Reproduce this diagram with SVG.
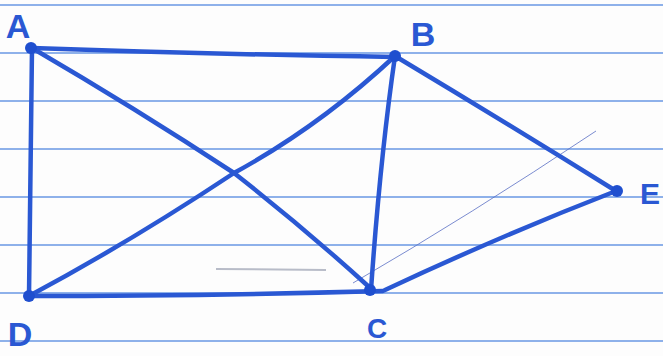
<svg xmlns="http://www.w3.org/2000/svg" width="663" height="356" viewBox="0 0 663 356">
<style>
.rule{stroke:#8eb1ea;stroke-width:2;fill:none}
.edge{stroke:#2a58d3;stroke-width:4.5;fill:none;stroke-linecap:round;stroke-linejoin:round}
.dot{fill:#1f4fcf}
.lbl{font-family:"Liberation Sans",Arial,sans-serif;font-weight:bold;fill:#2a58d3}
.faint{stroke:#5a6fc4;stroke-width:1;fill:none;opacity:0.8}
</style>
<rect width="663" height="356" fill="#fdfdfd"/>
<g id="paper">
<line class="rule" x1="0" y1="5" x2="663" y2="5"/>
<line class="rule" x1="0" y1="53" x2="663" y2="53"/>
<line class="rule" x1="0" y1="101" x2="663" y2="101"/>
<line class="rule" x1="0" y1="149" x2="663" y2="149"/>
<line class="rule" x1="0" y1="197" x2="663" y2="197"/>
<line class="rule" x1="0" y1="245" x2="663" y2="245"/>
<line class="rule" x1="0" y1="293" x2="663" y2="293"/>
<line class="rule" x1="0" y1="341" x2="663" y2="341"/>
<path class="faint" d="M353,283 Q470,215 596,131"/>
<path d="M216,269 L326,270" stroke="#b8bcc8" stroke-width="2" fill="none"/>
</g>
<g id="connectors">
<path class="edge" d="M32,48 Q200,54 395,57"/>
<path class="edge" d="M32,48 Q31,170 29,296"/>
<path class="edge" d="M32,48 Q135,108 234,173 Q302,226 368,286"/>
<path class="edge" d="M29,296 Q130,242 234,173 Q320,126 395,56"/>
<path class="edge" d="M29,296 Q200,296 383,291"/>
<path class="edge" d="M395,56 Q380,160 371,290"/>
<path class="edge" d="M395,56 Q510,125 616,191"/>
<path class="edge" d="M385,290 Q500,236 616,191"/>
</g>
<g id="node-A"><circle class="dot" cx="31" cy="48" r="6"/><text class="lbl" x="18" y="38" font-size="34" text-anchor="middle">A</text></g>
<g id="node-B"><circle class="dot" cx="395" cy="56" r="6"/><text class="lbl" x="423" y="46" font-size="34" text-anchor="middle">B</text></g>
<g id="node-E"><circle class="dot" cx="617" cy="191" r="6"/><text class="lbl" x="650" y="204" font-size="30" text-anchor="middle">E</text></g>
<g id="node-C"><circle class="dot" cx="370" cy="290" r="6"/><text class="lbl" x="377" y="338" font-size="28" text-anchor="middle">C</text></g>
<g id="node-D"><circle class="dot" cx="29" cy="296" r="6"/><text class="lbl" x="20" y="346" font-size="34" text-anchor="middle">D</text></g>
</svg>
